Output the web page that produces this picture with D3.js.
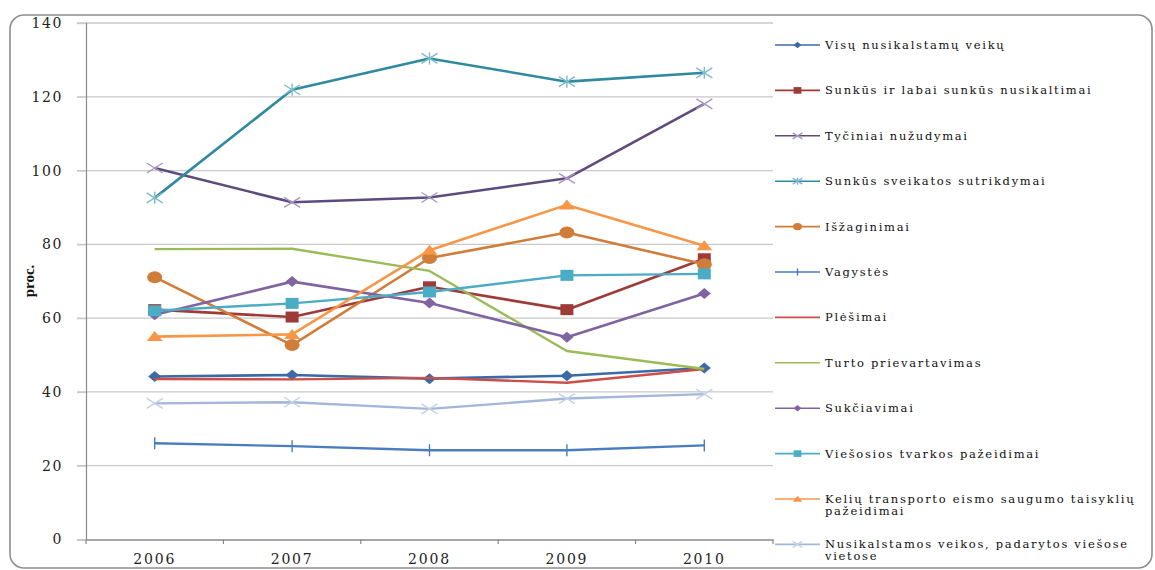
<!DOCTYPE html>
<html><head><meta charset="utf-8">
<script src="https://cdn.jsdelivr.net/npm/d3@7"></script>
<style>
body{margin:0;background:#fff;}
svg{display:block;}
</style></head>
<body>
<svg id="c" width="1155" height="570"></svg>
<script>
const years = ["2006","2007","2008","2009","2010"];
const yTicks = [0,20,40,60,80,100,120,140];
const seriesNames = [
  "Visų nusikalstamų veikų",
  "Sunkūs ir labai sunkūs nusikaltimai",
  "Tyčiniai nužudymai",
  "Sunkūs sveikatos sutrikdymai",
  "Išžaginimai",
  "Vagystės",
  "Plėšimai",
  "Turto prievartavimas",
  "Sukčiavimai",
  "Viešosios tvarkos pažeidimai",
  "Kelių transporto eismo saugumo taisyklių pažeidimai",
  "Nusikalstamos veikos, padarytos viešose vietose"
];
const legendLines = [
  ["Visų nusikalstamų veikų"],
  ["Sunkūs ir labai sunkūs nusikaltimai"],
  ["Tyčiniai nužudymai"],
  ["Sunkūs sveikatos sutrikdymai"],
  ["Išžaginimai"],
  ["Vagystės"],
  ["Plėšimai"],
  ["Turto prievartavimas"],
  ["Sukčiavimai"],
  ["Viešosios tvarkos pažeidimai"],
  ["Kelių transporto eismo saugumo taisyklių","pažeidimai"],
  ["Nusikalstamos veikos, padarytos viešose","vietose"]
];
const visu      = [44.2, 44.6, 43.6, 44.4, 46.5];
const sunkus    = [62.3, 60.3, 68.5, 62.3, 76.1];
const tyciniai  = [100.7, 91.4, 92.7, 97.9, 118.1];
const sveikatos = [92.6, 121.9, 130.4, 124.1, 126.5];
const isz       = [71.1, 52.7, 76.3, 83.2, 74.6];
const vagystes  = [26.1, 25.3, 24.2, 24.2, 25.5];
const plesimai  = [43.5, 43.4, 43.8, 42.5, 46.2];
const turto     = [78.7, 78.8, 72.8, 51.1, 46.2];
const sukc      = [60.9, 69.9, 64.1, 54.8, 66.7];
const viesosios = [62.0, 64.0, 67.1, 71.6, 72.0];
const keliu     = [55.0, 55.6, 78.4, 90.7, 79.6];
const viesose   = [36.9, 37.2, 35.4, 38.2, 39.4];
const seriesValues = [visu, sunkus, tyciniai, sveikatos, isz, vagystes, plesimai, turto, sukc, viesosios, keliu, viesose];
const colors  = ["#3C6AA5","#9E3B39","#5F4A7D","#2F8A9F","#D07D3A","#4A7DC0","#CB4E4A","#9BBB59","#8064A2","#4BACC6","#F79646","#A3B7DA"];
const mColors = ["#3C6AA5","#9E3B39","#A898BE","#7DBBCB","#D07D3A","#4A7DC0","#CB4E4A","#9BBB59","#8064A2","#4BACC6","#F79646","#C3D0E8"];
const markers = ["diamond","square","x","star","circle","plus","none","none","diamond","square","triangle","x"];
const widths  = [2.6,2.6,2.6,2.6,2.6,2.4,2.4,2.4,2.6,2.4,2.6,2.4];

const svg = d3.select("#c");
// frame
svg.append("rect").attr("x",10).attr("y",15).attr("width",1142).attr("height",553)
  .attr("rx",14).attr("fill","#fff").attr("stroke","#8e8e8e").attr("stroke-width",1.6);

const x = d3.scaleBand().domain(years).range([86,773]).padding(0);
const y = d3.scaleLinear().domain([0,140]).range([539.5,23]);

// gridlines
svg.append("g").selectAll("line").data(yTicks.filter(d=>d>0)).join("line")
  .attr("x1",77).attr("x2",773).attr("y1",d=>y(d)).attr("y2",d=>y(d))
  .attr("stroke","#c9c9c9").attr("stroke-width",1.3);

// y axis
const yAxis = svg.append("g").attr("transform","translate(86,0)")
  .call(d3.axisLeft(y).tickValues(yTicks).tickSize(9).tickPadding(14));
yAxis.select(".domain").attr("stroke","#8a8a8a").attr("stroke-width",1.2);
yAxis.selectAll(".tick line").attr("stroke","#c9c9c9").attr("stroke-width",1.3);
yAxis.selectAll("text").attr("font-family","DejaVu Serif").attr("font-size","14px")
  .attr("letter-spacing","1.6px").attr("fill","#222");

// x axis
const xAxis = svg.append("g").attr("transform","translate(0,539.5)")
  .call(d3.axisBottom(x).tickSize(0).tickPadding(15));
xAxis.select(".domain").attr("stroke","#8a8a8a").attr("stroke-width",1.3);
xAxis.selectAll("text").attr("font-family","DejaVu Serif").attr("font-size","14px")
  .attr("letter-spacing","1.8px").attr("fill","#222");
// x boundary ticks
const bounds = years.map(d=>x(d)).concat([x.range()[1]]);
svg.append("g").selectAll("line").data(bounds).join("line")
  .attr("x1",d=>d).attr("x2",d=>d).attr("y1",539.5).attr("y2",544)
  .attr("stroke","#8a8a8a").attr("stroke-width",1.2);

// y label
svg.append("text").attr("transform","translate(34,281) rotate(-90)")
  .attr("text-anchor","middle").attr("font-family","Liberation Serif").attr("font-weight","bold")
  .attr("font-size","15px").attr("fill","#111").text("proc.");

function drawMarker(g, type, cx, cy, color, s) {
  s = s || 1;
  if (type === "diamond") {
    g.append("path").attr("d",`M${cx-6.5*s},${cy}L${cx},${cy-5.5*s}L${cx+6.5*s},${cy}L${cx},${cy+5.5*s}Z`).attr("fill",color);
  } else if (type === "square") {
    g.append("rect").attr("x",cx-6.5*s).attr("y",cy-5.5*s).attr("width",13*s).attr("height",11*s).attr("fill",color);
  } else if (type === "circle") {
    g.append("ellipse").attr("cx",cx).attr("cy",cy).attr("rx",7.5*s).attr("ry",6*s).attr("fill",color);
  } else if (type === "triangle") {
    g.append("path").attr("d",`M${cx-8*s},${cy+4.5*s}L${cx},${cy-5.5*s}L${cx+8*s},${cy+4.5*s}Z`).attr("fill",color);
  } else if (type === "x") {
    g.append("path").attr("d",`M${cx-8*s},${cy-5*s}L${cx+8*s},${cy+5*s}M${cx-8*s},${cy+5*s}L${cx+8*s},${cy-5*s}`)
      .attr("stroke",color).attr("stroke-width",1.4).attr("fill","none");
  } else if (type === "star") {
    g.append("path").attr("d",`M${cx-8*s},${cy-5*s}L${cx+8*s},${cy+5*s}M${cx-8*s},${cy+5*s}L${cx+8*s},${cy-5*s}M${cx},${cy-6*s}L${cx},${cy+6*s}`)
      .attr("stroke",color).attr("stroke-width",1.4).attr("fill","none");
  } else if (type === "plus") {
    g.append("path").attr("d",`M${cx},${cy-6*s}L${cx},${cy+6*s}`)
      .attr("stroke",color).attr("stroke-width",1.4).attr("fill","none");
  }
}

const line = d3.line().x((d,i)=>x(years[i])+x.bandwidth()/2).y(d=>y(d));
const plot = svg.append("g");
seriesValues.forEach((vals, si) => {
  const g = plot.append("g");
  g.append("path").attr("d",line(vals)).attr("fill","none")
    .attr("stroke",colors[si]).attr("stroke-width",widths[si]).attr("stroke-linejoin","round");
  vals.forEach((v,i) => {
    drawMarker(g, markers[si], x(years[i])+x.bandwidth()/2, y(v), markers[si]==="star"||markers[si]==="x"?mColors[si]:colors[si], 1);
  });
});

// legend
const lg = svg.append("g");
seriesNames.forEach((name, si) => {
  const cy = 45 + si*45.4;
  const g = lg.append("g");
  g.append("line").attr("x1",775).attr("x2",820).attr("y1",cy).attr("y2",cy)
    .attr("stroke",colors[si]).attr("stroke-width",1.6);
  drawMarker(g, markers[si], 797.5, cy, markers[si]==="star"||markers[si]==="x"?mColors[si]:colors[si], 0.6);
  const t = g.append("text").attr("x",825).attr("y",cy+4)
    .attr("font-family","DejaVu Serif").attr("font-size","11.5px").attr("letter-spacing","1.7px").attr("fill","#111");
  legendLines[si].forEach((ln, li) => {
    t.append("tspan").attr("x",825).attr("dy", li===0?0:12).text(ln);
  });
});
</script>
</body></html>
